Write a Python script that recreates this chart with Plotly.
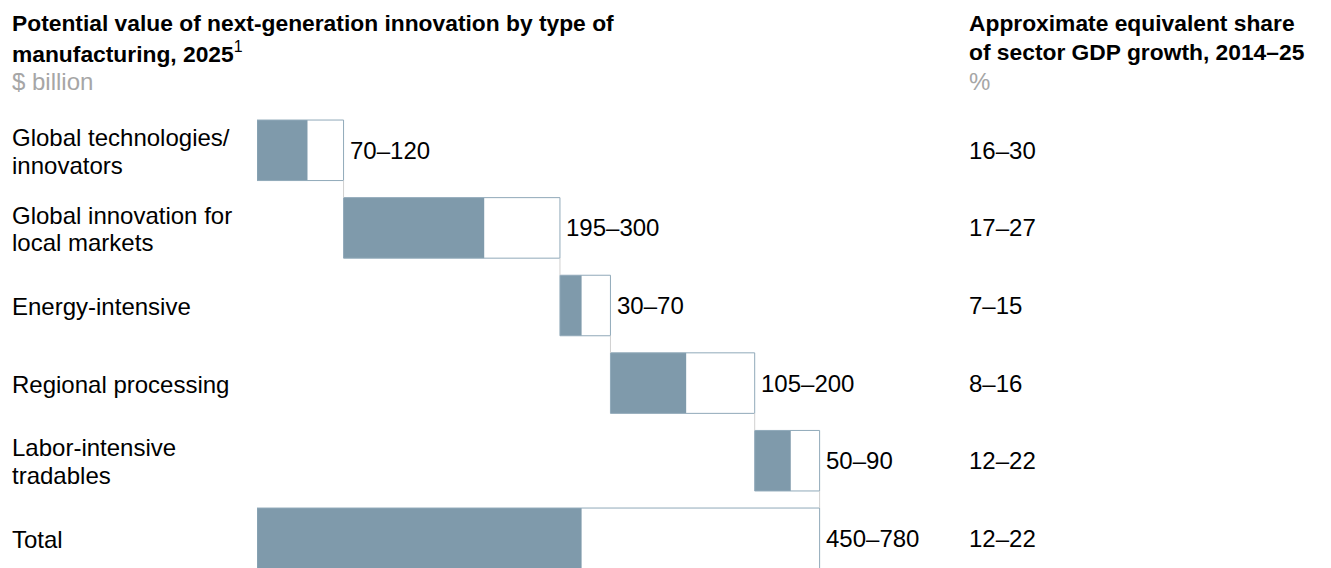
import plotly.graph_objects as go

# data
categories = [
    "Global technologies/<br>innovators",
    "Global innovation for<br>local markets",
    "Energy-intensive",
    "Regional processing",
    "Labor-intensive<br>tradables",
    "Total",
]
value_low = [70, 195, 30, 105, 50, 450]
value_high = [120, 300, 70, 200, 90, 780]
share_labels = ["16–30", "17–27", "7–15", "8–16", "12–22", "12–22"]

FILL = "#7f9aab"
EDGE = "#90a9b9"
GREY = "#a6a6a6"
FONT = "Liberation Sans, Arial, sans-serif"
W, H = 1331, 568
OFF = 8  # page body margin
TOP = 100 - OFF          # plot top in figure px
LEFT = 257 - OFF         # x=0 in figure px
plot_h = H - TOP
PX_PER_UNIT = 0.7213
ROW0, ROW_STEP = 150.3 - OFF, 77.6


def paper_y(page_px):
    return (H - (page_px - OFF)) / plot_h


def paper_x(page_px):
    return (page_px - OFF - LEFT) / (W - LEFT)


# waterfall bases: each step starts where the previous high ended, total starts at 0
bases = []
running = 0
for i in range(len(categories)):
    if categories[i] == "Total":
        bases.append(0)
    else:
        bases.append(running)
        running += value_high[i]

rows = list(range(len(categories)))
ends = [b + h for b, h in zip(bases, value_high)]

fig = go.Figure()

# connector lines between consecutive bars
cx, cy = [], []
half = 0.39
for i in range(len(categories) - 1):
    cx += [ends[i], ends[i], None]
    cy += [i + half, i + 1 - half, None]
fig.add_trace(go.Scatter(x=cx, y=cy, mode="lines",
                         line=dict(color="#d0d0d0", width=1),
                         hoverinfo="skip", showlegend=False))

fig.add_trace(go.Bar(
    y=rows, x=value_low, base=bases, orientation="h", width=0.78,
    marker=dict(color=FILL, line=dict(width=0)), showlegend=False,
))
fig.add_trace(go.Bar(
    y=rows, x=value_high, base=bases, orientation="h", width=0.78,
    marker=dict(color="rgba(0,0,0,0)", line=dict(color=EDGE, width=1)),
    showlegend=False,
))

ann = []
txt = dict(family=FONT, size=24, color="#000000")

for i, label in enumerate(categories):
    lines = label.split("<br>")
    offs = [0] if len(lines) == 1 else [-13.75, 13.75]
    for line, off in zip(lines, offs):
        ann.append(dict(x=paper_x(10), xref="paper", y=i, yref="y",
                        text=line, showarrow=False, xanchor="left",
                        yanchor="middle", yshift=-(off + 1), font=txt))
    ann.append(dict(x=ends[i], xref="x", y=i, yref="y",
                    text=f"{value_low[i]}–{value_high[i]}", showarrow=False,
                    xanchor="left", yanchor="middle", xshift=4.5, font=txt))
    ann.append(dict(x=paper_x(967), xref="paper", y=i, yref="y",
                    text=share_labels[i], showarrow=False, xanchor="left",
                    yanchor="middle", font=txt))

# headers (page px positions)
headers = [
    (10, 23.5, "<b>Potential value of next-generation innovation by type of</b>", "#000000", 22.8),
    (10, 52.5, "<b>manufacturing, 2025</b><sup>1</sup>", "#000000", 22.8),
    (10, 81.5, "$ billion", GREY, 24),
    (967, 23.5, "<b>Approximate equivalent share</b>", "#000000", 22.8),
    (967, 52.5, "<b>of sector GDP growth, 2014–25</b>", "#000000", 22.8),
    (967, 81.5, "%", GREY, 24),
]
for xp, yp, t, c, s in headers:
    ann.append(dict(x=paper_x(xp), xref="paper", y=paper_y(yp), yref="paper",
                    text=t, showarrow=False, xanchor="left", yanchor="middle",
                    font=dict(family=FONT, size=s, color=c)))

fig.update_layout(
    width=W, height=H,
    margin=dict(l=LEFT, r=0, t=TOP, b=0),
    paper_bgcolor="white", plot_bgcolor="white",
    barmode="overlay",
    annotations=ann,
    xaxis=dict(range=[0, (W - LEFT) / PX_PER_UNIT], visible=False, fixedrange=True),
    yaxis=dict(range=[(H - ROW0) / ROW_STEP, (TOP - ROW0) / ROW_STEP],
               visible=False, fixedrange=True),
)

fig.write_html("out.html")
